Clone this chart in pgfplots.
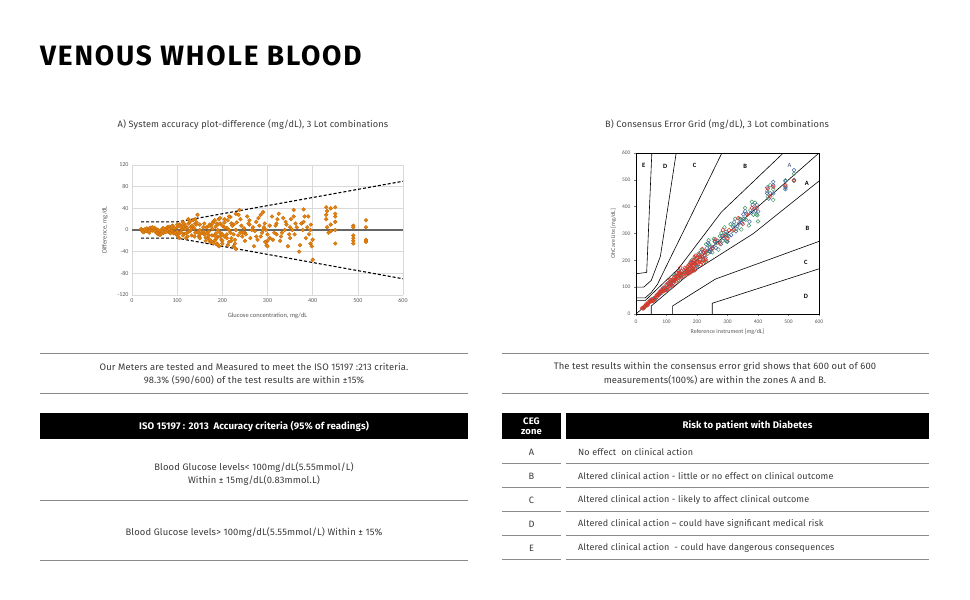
\documentclass[border=0pt]{standalone}
\usepackage{pgfplots}
\pgfplotsset{compat=1.18}
\usepackage{pgfplotstable}
\usepackage{fontspec}
\setmainfont[LetterSpace=1.5]{Fira Sans}
\newfontfamily\titlefont[LetterSpace=6.5]{Fira Sans}
\newfontfamily\chartfont{Carlito}
\definecolor{txt}{HTML}{3A3A3A}
\definecolor{rulec}{HTML}{8A8A8A}
\definecolor{dotc}{HTML}{E8820C}
\definecolor{lotr}{HTML}{D8392B}
\definecolor{lotg}{HTML}{3F9865}
\definecolor{lotb}{HTML}{4A68A0}

\pgfplotstableread{
x d
20 2
22 -1
25 0
27 -3
30 1
33 3
35 -2
38 -5
40 4
42 0
45 -1
48 2
50 4
52 -3
55 -6
58 -8
60 -4
62 -2
65 0
68 3
70 -5
72 -1
75 2
78 5
80 -3
82 6
85 1
88 -2
90 8
92 -6
95 3
98 -8
100 5
102 -12
105 10
105 -6
108 -4
110 2
112 15
115 -7
115 3
118 8
120 -15
122 4
125 12
125 -3
128 -2
130 6
132 -10
135 18
135 5
138 3
140 -5
140 12
142 10
145 28
148 -12
150 0
150 10
155 -5
160 -8
160 12
163 -20
165 5
168 -15
170 -3
170 -10
172 10
173 -22
175 -20
175 8
178 2
180 15
180 -25
182 -10
185 6
185 -18
188 -25
188 12
190 0
190 -12
192 20
193 -30
195 -5
195 22
198 -18
200 8
200 -8
205 -12
205 14
210 4
210 -15
212 -28
215 -22
215 0
218 24
220 12
220 -20
225 -8
225 10
228 -25
230 0
230 -35
250 -5
260 18
275 -12
285 28
290 0
300 -20
305 8
320 -8
335 22
350 -15
365 5
380 15
395 0
432 35
440 -2
450 25
490 -10
518 -20
}\lotone

\pgfplotstableread{
x d
25 -4
32 -2
45 5
55 1
62 -9
70 3
78 -2
85 -6
92 4
100 -3
105 -15
110 8
115 12
120 -6
125 20
130 0
138 -12
143 14
150 -8
158 -3
163 -14
170 7
177 -10
183 18
187 -15
190 -28
195 12
200 -20
205 20
210 -8
215 25
220 -15
225 -30
230 30
235 -10
238 37
240 20
242 8
245 -5
250 -20
255 25
260 10
265 0
270 -30
275 15
280 22
285 -12
290 33
292 5
295 -22
298 -28
300 -8
310 25
315 -5
320 12
325 30
330 -12
340 15
345 -30
350 5
358 37
360 -8
370 -40
375 12
380 38
385 -15
390 25
395 -25
398 -30
400 -55
430 28
432 5
440 40
450 15
450 -25
490 8
490 -20
518 5
518 -22
}\lottwo

\pgfplotstableread{
x d
28 1
38 -1
50 -2
58 0
65 -7
75 -4
82 2
88 7
95 -5
100 10
108 6
113 -10
118 2
123 -12
128 15
133 8
140 20
145 -4
150 -15
158 5
165 -6
172 -18
178 12
183 -20
186 -6
190 10
195 -12
200 -25
205 5
212 18
218 -5
222 8
228 -18
232 14
236 28
240 -5
244 -12
248 3
252 -8
258 12
262 -15
268 5
272 -2
278 -18
282 8
288 -5
294 12
296 0
300 -30
305 -15
312 -18
318 8
322 20
328 -20
332 -5
338 0
342 10
348 -8
352 20
355 0
358 25
362 12
372 -28
378 0
382 25
388 5
392 -8
396 10
400 -18
430 20
430 42
435 -5
440 10
450 42
450 30
450 0
490 5
490 -15
490 -25
518 18
518 -18
}\lotthree

\begin{document}
\begin{tikzpicture}
\path[use as bounding box] (0,0) rectangle (970pt,-600pt);
\begin{scope}[x=1pt,y=-1pt]
% title
\node[anchor=base west, font=\titlefont\fontsize{28}{30}\selectfont\bfseries, inner sep=0] at (40,65) {VENOUS WHOLE BLOOD};
% chart titles
\node[font=\fontsize{9.2}{11}\selectfont, text=txt] at (253,125) {A) System accuracy plot-difference (mg/dL), 3 Lot combinations};
\node[font=\fontsize{9.2}{11}\selectfont, text=txt] at (717,125) {B) Consensus Error Grid (mg/dL), 3 Lot combinations};
% left text block
\draw[rulec, line width=0.8pt] (40,353) -- (468,353);
\node[font=\fontsize{9.4}{11}\selectfont, text=txt] at (254,367) {Our Meters are tested and Measured to meet the ISO 15197 :213 criteria.};
\node[font=\fontsize{9.4}{11}\selectfont, text=txt] at (254,380) {98.3\% (590/600) of the test results are within ±15\%};
\draw[rulec, line width=0.8pt] (40,393) -- (468,393);
\fill[black] (40,413) rectangle (468,439);
\node[font=\fontsize{9.6}{10}\selectfont\bfseries, text=white] at (254,426) {ISO 15197 : 2013\ \ Accuracy criteria (95\% of readings)};
\node[font=\fontsize{9.4}{11}\selectfont, text=txt] at (254,468) {Blood Glucose levels< 100mg/dL(5.55mmol/L)};
\node[font=\fontsize{9.4}{11}\selectfont, text=txt] at (254,481) {Within ± 15mg/dL(0.83mmol.L)};
\draw[rulec, line width=0.8pt] (40,500) -- (468,500);
\node[font=\fontsize{9.4}{11}\selectfont, text=txt] at (254,533) {Blood Glucose levels> 100mg/dL(5.55mmol/L) Within ± 15\%};
\draw[rulec, line width=0.8pt] (40,560) -- (468,560);
% right text block
\draw[rulec, line width=0.8pt] (502,353) -- (929,353);
\node[font=\fontsize{9.4}{11}\selectfont, text=txt] at (715,367) {The test results within the consensus error grid shows that 600 out of 600};
\node[font=\fontsize{9.4}{11}\selectfont, text=txt] at (715,380) {measurements(100\%) are within the zones A and B.};
\draw[rulec, line width=0.8pt] (502,393) -- (929,393);
\fill[black] (502,413) rectangle (561,439);
\fill[black] (566,413) rectangle (929,439);
\node[font=\fontsize{9.4}{9.5}\selectfont\bfseries, text=white, align=center] at (531.5,426) {CEG\\zone};
\node[font=\fontsize{9.6}{10}\selectfont\bfseries, text=white] at (747.5,426) {Risk to patient with Diabetes};
\foreach \yy/\z/\t in {452/A/{No effect\ \ on clinical action},
  476/B/{Altered clinical action - little or no effect on clinical outcome},
  500/C/{Altered clinical action - likely to affect clinical outcome},
  524/D/{Altered clinical action -- could have significant medical risk},
  548/E/{Altered clinical action\ \ - could have dangerous consequences}} {
  \node[font=\fontsize{9.2}{11}\selectfont, text=txt] at (531.5,\yy) {\z};
  \node[font=\fontsize{9}{11}\selectfont, text=txt, anchor=west, inner sep=0] at (578,\yy) {\t};
}
\foreach \yy in {463.5,487.5,511.5,535.5,559.5} {
  \draw[rulec, line width=0.8pt] (502,\yy) -- (561,\yy);
  \draw[rulec, line width=0.8pt] (566,\yy) -- (929,\yy);
}
\end{scope}

% ---------- Chart A ----------
\begin{axis}[at={(132pt,-295pt)}, anchor=south west,
  width=271pt, height=130pt, scale only axis,
  xmin=0, xmax=600, ymin=-120, ymax=120,
  xtick={0,100,...,600}, ytick={-120,-80,...,120},
  grid=major, grid style={gray!30, line width=0.5pt},
  axis line style={draw=none}, major tick length=0pt,
  tick label style={font=\chartfont\fontsize{6}{7}\selectfont, text=gray!70!black},
  /pgf/number format/assume math mode=true,
  xlabel={Glucose concentration, mg/dL}, ylabel={Difference, mg/dL},
  label style={font=\chartfont\fontsize{6.5}{7.5}\selectfont, text=gray!70!black},
  xlabel style={yshift=-3pt}, ylabel style={yshift=3pt}]
\addplot[gray!80!black, line width=1.2pt] coordinates {(0,0) (600,0)};
\addplot[only marks, mark=*, mark size=1.9pt, draw=dotc!85!black, fill=dotc] table[x=x,y=d] {\lotone};
\addplot[only marks, mark=*, mark size=1.9pt, draw=dotc!85!black, fill=dotc] table[x=x,y=d] {\lottwo};
\addplot[only marks, mark=*, mark size=1.9pt, draw=dotc!85!black, fill=dotc] table[x=x,y=d] {\lotthree};
\addplot[black, line width=1.1pt, dash pattern=on 3pt off 2pt] coordinates {(20,15) (100,15) (600,90)};
\addplot[black, line width=1.1pt, dash pattern=on 3pt off 2pt] coordinates {(20,-15) (100,-15) (600,-90)};
\end{axis}

% ---------- Chart B ----------
\begin{axis}[at={(636pt,-314pt)}, anchor=south west,
  width=183pt, height=161pt, scale only axis,
  xmin=0, xmax=600, ymin=0, ymax=600,
  xtick={0,100,...,600}, ytick={0,100,...,600},
  axis line style={black, line width=0.6pt},
  tick style={gray, line width=0.4pt}, major tick length=2pt, tick pos=left,
  tick align=outside,
  tick label style={font=\chartfont\fontsize{5.5}{6.5}\selectfont, text=gray!70!black},
  /pgf/number format/assume math mode=true,
  xlabel={Reference instrument [mg/dL]}, ylabel={OhCare Lite [mg/dL]},
  label style={font=\chartfont\fontsize{6}{7}\selectfont, text=gray!70!black},
  xlabel style={yshift=1pt}, ylabel style={yshift=-1pt}]
\pgfplotsset{zone/.style={black, line width=0.6pt, forget plot}}
\addplot[zone] coordinates {(0,0) (600,600)};
\addplot[zone] coordinates {(0,50) (30,50) (140,170) (280,380) (483,600)};
\addplot[zone] coordinates {(50,0) (50,30) (170,145) (385,300) (550,450) (600,495.5)};
\addplot[zone] coordinates {(0,60) (30,60) (50,80) (70,110) (260,550) (281.6,600)};
\addplot[zone] coordinates {(120,0) (120,30) (260,130) (550,250) (600,270.7)};
\addplot[zone] coordinates {(0,100) (25,100) (50,125) (80,215) (125,550) (131.7,600)};
\addplot[zone] coordinates {(250,0) (250,40) (550,150) (600,168.3)};
\addplot[zone] coordinates {(0,150) (35,155) (50,550) (51.9,600)};
\addplot[only marks, mark=o, mark size=1.9pt, lotg, line width=0.5pt] table[x=x, y expr=\thisrow{x}+\thisrow{d}] {\lottwo};
\addplot[only marks, mark=o, mark size=1.9pt, lotb, line width=0.5pt] table[x=x, y expr=\thisrow{x}+\thisrow{d}] {\lotthree};
\addplot[only marks, mark=o, mark size=1.9pt, lotr, line width=0.55pt] table[x=x, y expr=\thisrow{x}+\thisrow{d}] {\lotone};
\foreach \px/\py/\lab in {25/552/E, 96/550/D, 192/552/C, 358/550/B, 560/486/A, 562/318/B, 557/191/C, 557/64/D} {
  \edef\tmp{\noexpand\node[font=\noexpand\chartfont\noexpand\fontsize{6.5}{7}\noexpand\selectfont\noexpand\bfseries] at (axis cs:\px,\py) {\lab};}
  \tmp
}
\node[font=\chartfont\fontsize{6.5}{7}\selectfont, text=lotb!70!black] at (axis cs:503,552) {A};
\end{axis}
\end{tikzpicture}
\end{document}
